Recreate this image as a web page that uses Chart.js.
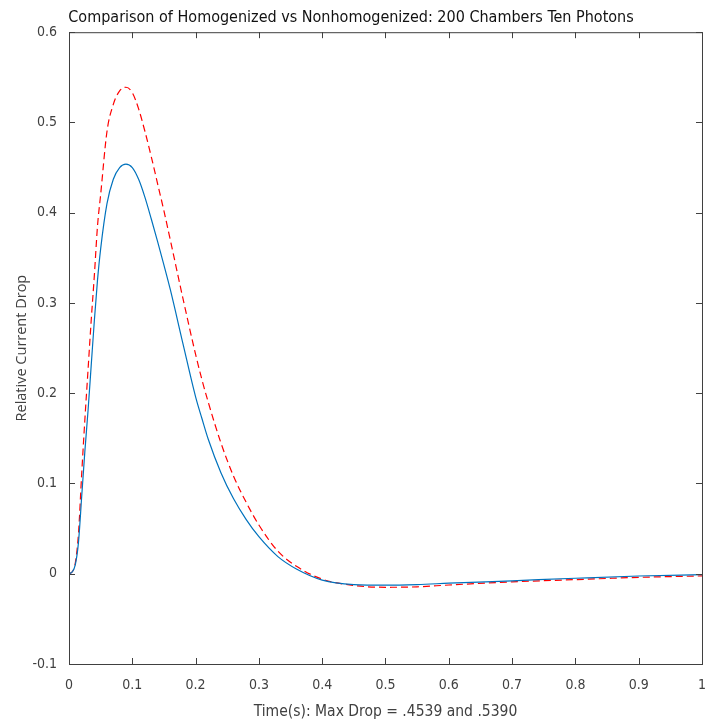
<!DOCTYPE html>
<html>
<head>
<meta charset="utf-8">
<script src="https://cdn.jsdelivr.net/npm/chart.js@4.4.1/dist/chart.umd.min.js"></script>
<style>
  html, body { margin: 0; padding: 0; background: #fff; }
  #wrap { width: 719px; height: 725px; }
</style>
</head>
<body>
<div id="wrap"><canvas id="dropChart" width="719" height="725"></canvas></div>
<script>
// time axis (s), shared by both curves
const timeValues = [0, 0.005, 0.01, 0.015, 0.02, 0.025, 0.03, 0.035, 0.04, 0.045, 0.05, 0.06, 0.07, 0.08, 0.09,
    0.1, 0.11, 0.12, 0.13, 0.14, 0.15, 0.16, 0.18, 0.2, 0.21, 0.22, 0.24, 0.26, 0.28, 0.3, 0.33, 0.36, 0.4,
    0.45, 0.5, 0.55, 0.6, 0.7, 0.8, 0.9, 1.0];

// homogenized (solid blue)
const homogenizedDrop = [0, 0.002, 0.01, 0.035, 0.085, 0.135, 0.18, 0.23, 0.28, 0.325, 0.36, 0.41, 0.437, 0.45, 0.4539,
    0.45, 0.437, 0.417, 0.393, 0.368, 0.342, 0.315, 0.255, 0.196, 0.172, 0.149, 0.112, 0.083, 0.06, 0.041, 0.019, 0.005, -0.007,
    -0.012, -0.0127, -0.012, -0.0105, -0.0078, -0.005, -0.0025, -0.001];

// nonhomogenized (dashed red)
const nonhomogenizedDrop = [0, 0.002, 0.012, 0.045, 0.11, 0.17, 0.225, 0.28, 0.33, 0.385, 0.42, 0.49, 0.52, 0.535, 0.539,
    0.533, 0.515, 0.49, 0.462, 0.432, 0.402, 0.37, 0.305, 0.243, 0.215, 0.19, 0.145, 0.108, 0.079, 0.054, 0.025, 0.008, -0.006,
    -0.013, -0.015, -0.0145, -0.0125, -0.009, -0.0065, -0.004, -0.0024];

const xTicks = [0, 0.1, 0.2, 0.3, 0.4, 0.5, 0.6, 0.7, 0.8, 0.9, 1];
const yTicks = [-0.1, 0, 0.1, 0.2, 0.3, 0.4, 0.5, 0.6];
const xTickLabels = ['0', '0.1', '0.2', '0.3', '0.4', '0.5', '0.6', '0.7', '0.8', '0.9', '1'];
const yTickLabels = ['-0.1', '0', '0.1', '0.2', '0.3', '0.4', '0.5', '0.6'];

const narrowFont = "'DejaVu Sans Condensed', 'Liberation Sans Narrow', 'Liberation Sans', sans-serif";
const axisColor = '#404040';

function toPoints(values) {
    return timeValues.map((t, i) => ({x: t, y: values[i]}));
}

// matlab style box with ticks pointing inward
const boxTicks = {
    id: 'boxTicks',
    afterDraw(chart) {
        const {ctx, chartArea: a, scales: {x, y}} = chart;
        const len = 6;
        ctx.save();
        ctx.strokeStyle = axisColor;
        ctx.lineWidth = 1;
        ctx.strokeRect(a.left + 0.5, a.top + 0.5, a.right - a.left, a.bottom - a.top);
        ctx.beginPath();
        x.ticks.forEach(t => {
            const px = Math.round(x.getPixelForValue(t.value)) + 0.5;
            ctx.moveTo(px, a.bottom); ctx.lineTo(px, a.bottom - len);
            ctx.moveTo(px, a.top); ctx.lineTo(px, a.top + len);
        });
        y.ticks.forEach(t => {
            const py = Math.round(y.getPixelForValue(t.value)) + 0.5;
            ctx.moveTo(a.left, py); ctx.lineTo(a.left + len, py);
            ctx.moveTo(a.right, py); ctx.lineTo(a.right - len, py);
        });
        ctx.stroke();
        ctx.restore();
    }
};

const ctx = document.getElementById('dropChart').getContext('2d');
new Chart(ctx, {
    type: 'line',
    data: {
        datasets: [
            {
                label: 'Homogenized',
                data: toPoints(homogenizedDrop),
                borderColor: '#0072BD',
                borderWidth: 1.2,
                pointRadius: 0,
                cubicInterpolationMode: 'monotone',
                fill: false
            },
            {
                label: 'Nonhomogenized',
                data: toPoints(nonhomogenizedDrop),
                borderColor: '#FF0000',
                borderWidth: 1.2,
                borderDash: [7, 4],
                pointRadius: 0,
                cubicInterpolationMode: 'monotone',
                fill: false
            }
        ]
    },
    options: {
        responsive: false,
        animation: false,
        layout: { padding: { left: 0, right: 17, top: 0, bottom: 0 } },
        scales: {
            x: {
                type: 'linear',
                min: 0,
                max: 1,
                afterBuildTicks: scale => { scale.ticks = xTicks.map(v => ({value: v})); },
                afterFit: scale => { scale.height = 61; },
                grid: { display: false, drawTicks: false },
                border: { display: false },
                ticks: {
                    padding: 13,
                    color: axisColor,
                    font: { family: narrowFont, size: 14 },
                    callback: (value, index) => xTickLabels[index]
                },
                title: {
                    display: true,
                    text: 'Time(s): Max Drop = .4539 and .5390',
                    color: axisColor,
                    font: { family: narrowFont, size: 15.5 },
                    padding: { top: 0, bottom: 4 }
                }
            },
            y: {
                type: 'linear',
                min: -0.1,
                max: 0.6,
                afterBuildTicks: scale => { scale.ticks = yTicks.map(v => ({value: v})); },
                afterFit: scale => { scale.width = 69; },
                grid: { display: false, drawTicks: false },
                border: { display: false },
                ticks: {
                    padding: 12,
                    color: axisColor,
                    font: { family: narrowFont, size: 14 },
                    callback: (value, index) => yTickLabels[index]
                },
                title: {
                    display: true,
                    text: 'Relative Current Drop',
                    color: axisColor,
                    font: { family: "'Open Sans', sans-serif", size: 14.5 },
                    padding: { top: 13, bottom: 0 }
                }
            }
        },
        plugins: {
            legend: { display: false },
            tooltip: { enabled: false },
            title: {
                display: true,
                text: 'Comparison of Homogenized vs Nonhomogenized: 200 Chambers Ten Photons',
                color: '#111',
                font: { family: narrowFont, size: 16, weight: 'normal' },
                padding: { top: 8, bottom: 5 }
            }
        }
    },
    plugins: [boxTicks]
});
</script>
</body>
</html>
